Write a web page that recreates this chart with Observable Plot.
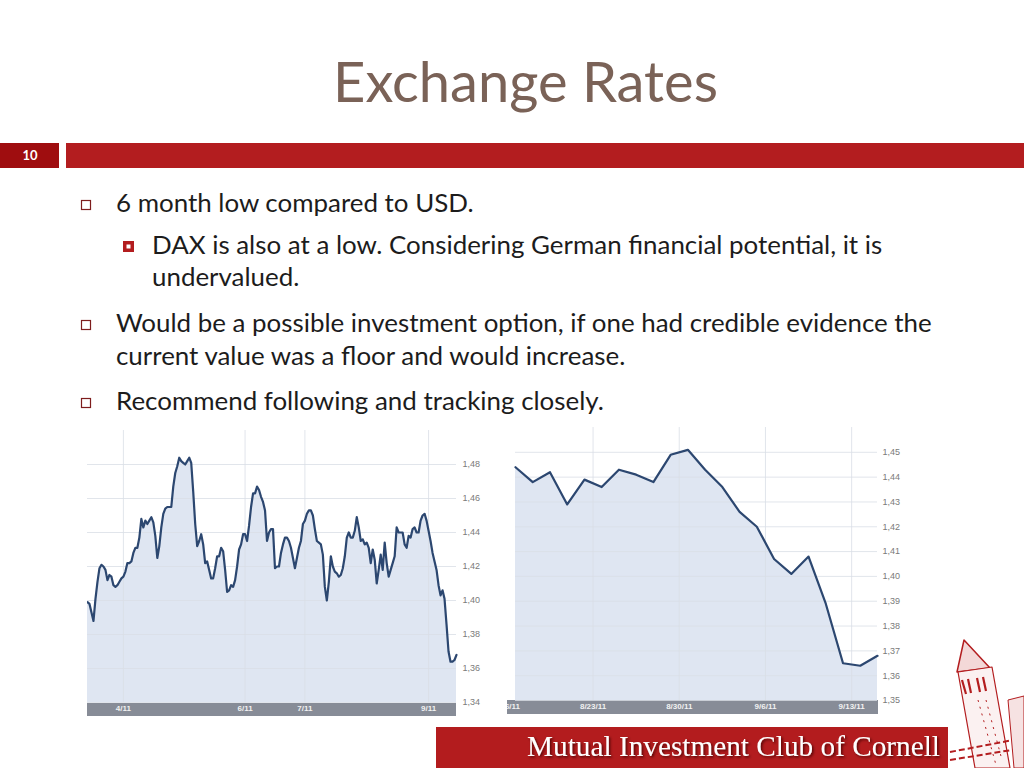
<!DOCTYPE html>
<html><head><meta charset="utf-8">
<script src="https://cdn.jsdelivr.net/npm/d3@7"></script>
<script src="https://cdn.jsdelivr.net/npm/@observablehq/plot@0.6"></script>
<style>
body{margin:0;width:1024px;height:768px;overflow:hidden;background:#fff;position:relative;font-family:Lato,"Open Sans",sans-serif;}
#slide{position:absolute;left:0;top:0;}
.chart{position:absolute;}
.band{position:absolute;background:#878c97;}
</style></head><body>
<svg id="slide" width="1024" height="768"></svg>
<div class="band" style="left:87px;top:703px;width:369px;height:13px"></div>
<div class="band" style="left:507px;top:700px;width:371px;height:14px"></div>
<div id="left" class="chart" style="left:87px;top:420px"></div>
<div id="right" class="chart" style="left:507px;top:417px"></div>
<script>
// ---------- DATA ----------
const titleText = "Exchange Rates";
const slideNumber = "10";
const footerText = "Mutual Investment Club of Cornell";
const bulletLevels = [1, 2, 1, 1];
const bulletLines = [
  ["6 month low compared to USD."],
  ["DAX is also at a low. Considering German financial potential, it is", "undervalued."],
  ["Would be a possible investment option, if one had credible evidence the", "current value was a floor and would increase."],
  ["Recommend following and tracking closely."]
];

// Left chart: daily EUR/USD, 6 months
const leftStart = "2011-03-14";
const leftValues = [
1.399,1.398,1.393,1.388,1.401,1.411,1.419,1.421,1.420,1.418,
1.412,1.415,1.414,1.409,1.408,1.409,1.411,1.413,1.414,1.417,
1.422,1.422,1.423,1.428,1.431,1.431,1.437,1.448,1.443,1.447,
1.445,1.447,1.449,1.446,1.438,1.425,1.432,1.443,1.451,1.454,
1.455,1.455,1.455,1.467,1.475,1.479,1.484,1.482,1.481,1.480,
1.482,1.484,1.481,1.464,1.445,1.432,1.435,1.439,1.433,1.422,
1.423,1.418,1.413,1.413,1.419,1.426,1.426,1.431,1.429,1.418,
1.405,1.406,1.409,1.408,1.412,1.420,1.430,1.433,1.439,1.439,
1.435,1.444,1.455,1.463,1.463,1.467,1.465,1.461,1.458,1.453,
1.435,1.440,1.442,1.442,1.419,1.420,1.420,1.428,1.433,1.437,
1.437,1.435,1.431,1.425,1.419,1.425,1.431,1.435,1.445,1.447,
1.451,1.453,1.453,1.450,1.442,1.435,1.434,1.433,1.427,1.408,
1.400,1.411,1.426,1.420,1.417,1.416,1.414,1.415,1.419,1.426,
1.437,1.440,1.437,1.437,1.441,1.449,1.443,1.435,1.436,1.433,
1.434,1.431,1.422,1.430,1.424,1.410,1.418,1.427,1.418,1.434,
1.422,1.414,1.418,1.422,1.426,1.443,1.440,1.440,1.440,1.433,
1.431,1.438,1.437,1.442,1.443,1.440,1.440,1.447,1.450,1.451,
1.447,1.441,1.435,1.428,1.423,1.418,1.409,1.403,1.406,1.401,
1.386,1.370,1.364,1.364,1.365,1.368
];
const leftTickDates = ["2011-04-01", "2011-06-01", "2011-07-01", "2011-09-01"];
const leftTickLabels = ["4/11", "6/11", "7/11", "9/11"];
const leftYTicks = [1.34, 1.36, 1.38, 1.40, 1.42, 1.44, 1.46, 1.48];
const leftYDomain = [1.34, 1.50];

// Right chart: one month, trading days
const rightDates = ["8/16","8/17","8/18","8/19","8/22","8/23","8/24","8/25","8/26","8/29","8/30",
  "8/31","9/1","9/2","9/5","9/6","9/7","9/8","9/9","9/12","9/13","9/14"];
const rightValues = [1.444,1.438,1.442,1.429,1.439,1.436,1.443,1.441,1.438,1.449,1.451,
  1.443,1.436,1.426,1.420,1.407,1.401,1.408,1.389,1.365,1.364,1.368];
const rightTickDates = ["8/16", "8/23", "8/30", "9/6", "9/13"];
const rightTickLabels = ["8/16/11", "8/23/11", "8/30/11", "9/6/11", "9/13/11"];
const rightYTicks = [1.35, 1.36, 1.37, 1.38, 1.39, 1.40, 1.41, 1.42, 1.43, 1.44, 1.45];
const rightYDomain = [1.35, 1.46];

// ---------- STYLE ----------
const areaFill = "#dfe6f2";
const lineColor = "#2c4770";
const gridColor = "#d9dee6";
const yFmt = d => d3.format(".2f")(d).replace(".", ",");
const axisFont = "'Liberation Sans', Arial, sans-serif";

// ---------- LEFT CHART ----------
const d0 = new Date(leftStart);
const leftData = leftValues.map((v, k) => ({date: d3.utcDay.offset(d0, k), v}));
const leftTicks = leftTickDates.map(s => new Date(s));
const leftLabelOf = d => leftTickLabels[leftTicks.findIndex(t => +t === +d)];
const leftPlot = Plot.plot({
  width: 403, height: 296,
  marginLeft: 0, marginRight: 34, marginTop: 10, marginBottom: 14,
  style: {background: "transparent", overflow: "hidden", fontFamily: axisFont},
  x: {type: "utc", domain: [d0, d3.utcDay.offset(d0, leftValues.length - 1)]},
  y: {domain: leftYDomain},
  marks: [
    Plot.areaY(leftData, {x: "date", y1: () => leftYDomain[0], y2: "v", fill: areaFill}),
    Plot.gridY(leftYTicks, {stroke: gridColor, strokeOpacity: 0.8}),
    Plot.gridX(leftTicks, {stroke: gridColor, strokeOpacity: 0.8}),
    Plot.lineY(leftData, {x: "date", y: "v", stroke: lineColor, strokeWidth: 2.2}),
    Plot.axisY(leftYTicks, {anchor: "right", label: null, tickSize: 0, tickPadding: 6, tickFormat: yFmt, fontSize: 9, fill: "#7a7a7a"}),
    Plot.axisX(leftTicks, {anchor: "bottom", label: null, tickSize: 0, tickPadding: 3, tickFormat: leftLabelOf, fontSize: 8, fontWeight: "bold", fill: "#f2f2f2"})
  ]
});
document.getElementById("left").appendChild(leftPlot);

// ---------- RIGHT CHART ----------
const rightData = rightValues.map((v, i) => ({i, v}));
const rightTicks = rightTickDates.map(d => rightDates.indexOf(d) - 0.5);
const rightLabelOf = x => rightTickLabels[rightTicks.indexOf(x)];
const rightPlot = Plot.plot({
  width: 410, height: 297,
  marginLeft: 8, marginRight: 40, marginTop: 10, marginBottom: 14,
  style: {background: "transparent", overflow: "hidden", fontFamily: axisFont},
  x: {domain: [0, rightValues.length - 1]},
  y: {domain: rightYDomain},
  marks: [
    Plot.areaY(rightData, {x: "i", y1: () => rightYDomain[0], y2: "v", fill: areaFill}),
    Plot.gridY(rightYTicks, {stroke: gridColor, strokeOpacity: 0.8}),
    Plot.gridX(rightTicks.filter(t => t >= 0), {stroke: gridColor, strokeOpacity: 0.8}),
    Plot.lineY(rightData, {x: "i", y: "v", stroke: lineColor, strokeWidth: 2.2}),
    Plot.axisY(rightYTicks, {anchor: "right", label: null, tickSize: 0, tickPadding: 5, tickFormat: yFmt, fontSize: 9, fill: "#7a7a7a"}),
    Plot.axisX(rightTicks, {anchor: "bottom", label: null, tickSize: 0, tickPadding: 3, tickFormat: rightLabelOf, fontSize: 8, fontWeight: "bold", fill: "#f2f2f2"})
  ]
});
document.getElementById("right").appendChild(rightPlot);

// ---------- SLIDE DECORATION ----------
const slide = d3.select("#slide");
const defs = slide.append("defs");
const f = defs.append("filter").attr("id", "sh").attr("x", "-5%").attr("y", "-20%").attr("width", "110%").attr("height", "150%");
f.append("feDropShadow").attr("dx", 1.5).attr("dy", 1.5).attr("stdDeviation", 1.2).attr("flood-color", "#3a0000").attr("flood-opacity", 0.8);

function fitText(sel, target) {
  const w = sel.node().getComputedTextLength();
  const fs = parseFloat(sel.attr("font-size"));
  sel.attr("font-size", fs * target / w);
}

// title
const title = slide.append("text").attr("x", 525.5).attr("y", 102).attr("text-anchor", "middle")
  .attr("font-family", "Lato, sans-serif").attr("font-size", 48).attr("fill", "#7a6257").text(titleText);
fitText(title, 385);

// header bar
slide.append("rect").attr("x", 0).attr("y", 143).attr("width", 59).attr("height", 25).attr("fill", "#9f0d0f");
slide.append("rect").attr("x", 66).attr("y", 143).attr("width", 958).attr("height", 25).attr("fill", "#b31d1f");
slide.append("text").attr("x", 30).attr("y", 160).attr("text-anchor", "middle").attr("fill", "#fff")
  .attr("font-family", "Lato, sans-serif").attr("font-weight", "bold").attr("font-size", 13).text(slideNumber);

// bullets
const baselines = [[212], [254, 286], [332, 365], [410]];
const textNodes = [];
bulletLines.forEach((lines, b) => {
  const lvl = bulletLevels[b];
  const tx = lvl === 1 ? 116 : 152;
  lines.forEach((ln, j) => {
    const t = slide.append("text").attr("x", tx).attr("y", baselines[b][j])
      .attr("font-family", "Lato, sans-serif").attr("font-size", 22).attr("fill", "#1c1c1c").text(ln);
    textNodes.push(t);
  });
  const by = baselines[b][0];
  if (lvl === 1) {
    slide.append("rect").attr("x", 81.5).attr("y", by - 11.5).attr("width", 9).attr("height", 9)
      .attr("fill", "none").attr("stroke", "#7e1d1d").attr("stroke-width", 1.2);
  } else {
    slide.append("rect").attr("x", 123).attr("y", by - 13).attr("width", 11).attr("height", 11).attr("fill", "#b31d1f");
    slide.append("rect").attr("x", 126.5).attr("y", by - 9.5).attr("width", 4).attr("height", 4).attr("fill", "#fff");
  }
});
{
  const ref = textNodes[3];
  const w = ref.node().getComputedTextLength();
  const fs = 22 * 816 / w;
  textNodes.forEach(t => t.attr("font-size", fs));
}

// footer
slide.append("rect").attr("x", 436).attr("y", 727).attr("width", 512).attr("height", 41).attr("fill", "#b31c1e");
const foot = slide.append("text").attr("x", 940).attr("y", 756).attr("text-anchor", "end")
  .attr("font-family", "'Liberation Serif', serif").attr("font-size", 24).attr("fill", "#fff")
  .attr("filter", "url(#sh)").text(footerText);
fitText(foot, 413);

// tower logo (decorative, sketch-like)
const lg = slide.append("g").attr("fill", "none").attr("stroke", "#b31d1f").attr("stroke-linejoin", "round");
lg.append("polygon").attr("points", "964,640 957,672 990,668").attr("fill", "#f3d8d8").attr("stroke-width", 1.5);
lg.append("polygon").attr("points", "958,672 992,667 1010,768 975,768").attr("fill", "#fbf1f1").attr("stroke-width", 1.2);
lg.append("path").attr("d", "M962,680 L966,694 M968,679 L971,693 M977,678 L980,692 M983,677 L986,691").attr("stroke-width", 2.2);
lg.append("path").attr("d", "M978,700 L996,765 M986,700 L1002,760").attr("stroke-width", 1).attr("stroke-dasharray", "2,5");
lg.append("path").attr("d", "M950,752 L1024,738 M950,760 L1024,748").attr("stroke-width", 2).attr("stroke-dasharray", "6,3");
lg.append("polygon").attr("points", "1008,700 1024,696 1024,768 1014,768").attr("fill", "#f6e2e2").attr("stroke-width", 1);
</script>
</body></html>
